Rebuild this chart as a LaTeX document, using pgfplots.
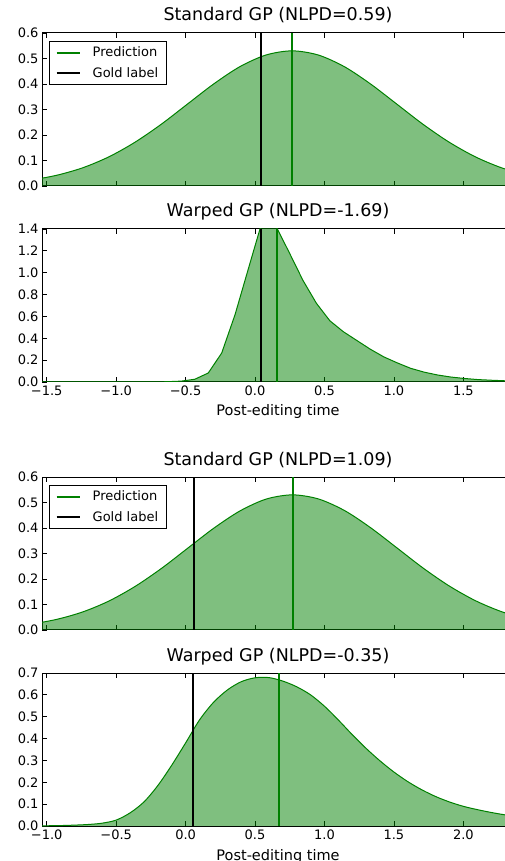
\documentclass[border=0pt]{standalone}
\usepackage{fontspec}
\setmainfont{DejaVu Sans}
\usepackage{pgfplots}
\pgfplotsset{compat=1.18}
\usepackage{pgfplotstable}
\definecolor{mplgreen}{RGB}{0,128,0}

% standard GP, example 1
\pgfplotstableread{
x y
-1.804 0.0121
-1.616 0.0233
-1.427 0.0422
-1.239 0.0717
-1.051 0.1147
-0.863 0.1721
-0.674 0.2426
-0.486 0.3215
-0.298 0.4000
-0.110 0.4677
0.079 0.5137
0.267 0.5300
0.455 0.5137
0.644 0.4677
0.832 0.4000
1.020 0.3215
1.208 0.2426
1.397 0.1721
1.585 0.1147
1.773 0.0717
1.961 0.0422
}\stdA

% warped GP, example 1
\pgfplotstableread{
x y
-1.600 0.000
-0.725 0.000
-0.628 0.003
-0.531 0.008
-0.434 0.025
-0.337 0.082
-0.240 0.265
-0.144 0.616
-0.043 1.058
0.054 1.480
0.151 1.425
0.248 1.180
0.345 0.930
0.442 0.720
0.539 0.560
0.636 0.460
0.733 0.380
0.830 0.300
0.927 0.230
1.024 0.175
1.121 0.125
1.218 0.090
1.315 0.064
1.412 0.045
1.509 0.032
1.606 0.022
1.703 0.016
1.800 0.011
1.897 0.008
}\warpA

% standard GP, example 2
\pgfplotstableread{
x y
-1.301 0.0121
-1.113 0.0233
-0.924 0.0422
-0.736 0.0717
-0.548 0.1147
-0.360 0.1721
-0.171 0.2426
0.017 0.3215
0.205 0.4000
0.394 0.4677
0.582 0.5137
0.770 0.5300
0.958 0.5137
1.147 0.4677
1.335 0.4000
1.523 0.3215
1.711 0.2426
1.900 0.1721
2.088 0.1147
2.276 0.0717
2.464 0.0422
}\stdB

% warped GP, example 2
\pgfplotstableread{
x y
-1.100 0.000
-1.000 0.001
-0.900 0.002
-0.800 0.004
-0.700 0.007
-0.600 0.013
-0.500 0.027
-0.400 0.060
-0.300 0.110
-0.200 0.185
-0.100 0.278
0.000 0.380
0.100 0.485
0.200 0.565
0.300 0.622
0.400 0.660
0.500 0.678
0.600 0.679
0.700 0.663
0.800 0.637
0.900 0.600
1.000 0.548
1.100 0.485
1.200 0.418
1.300 0.355
1.400 0.298
1.500 0.247
1.600 0.203
1.700 0.166
1.800 0.135
1.900 0.110
2.000 0.090
2.100 0.075
2.200 0.062
2.300 0.051
2.400 0.043
}\warpB

\pgfplotsset{
  gp/.style={
    scale only axis, width=463pt, height=153pt,
    anchor=south west,
    axis x line*=box, axis y line*=left,
    axis line style={line width=1pt, black},
    every tick/.style={line width=0.8pt, black},
    major tick length=5pt,
    tick align=inside,
    ymin=0,
    tick label style={font=\fontsize{13}{15}\selectfont},
    title style={at={(axis description cs:0.5,1)}, anchor=base, yshift=6pt, xshift=4.5pt,
      font=\fontsize{17.5}{20}\selectfont},
    xlabel style={at={(axis description cs:0.5,0)}, anchor=base, yshift=-34pt, xshift=4.5pt,
      font=\fontsize{14.5}{17}\selectfont},
    legend style={at={(0,1)}, anchor=north west, xshift=7.3pt, yshift=-7.7pt,
      draw=black, line width=0.8pt, font=\fontsize{13}{15}\selectfont,
      inner xsep=6pt, inner ysep=4pt, row sep=5pt, column sep=10pt},
    legend cell align=left,
    legend image code/.code={\draw[##1] (0pt,0pt) -- (23pt,0pt);},
  },
  axA/.style={xmin=-1.534, xmax=1.80, xtick={-1.5,-1,-0.5,0,0.5,1,1.5}},
  axB/.style={xmin=-1.034, xmax=2.30, xtick={-1,-0.5,0,0.5,1,1.5,2}},
}

\begin{document}
\begin{tikzpicture}

% panel 1
\begin{axis}[gp, axA, at={(42pt,675pt)}, ymax=0.6,
  title={Standard GP (NLPD=0.59)},
  xticklabels={},
  ytick={0,0.1,0.2,0.3,0.4,0.5,0.6},
  yticklabels={0.0,0.1,0.2,0.3,0.4,0.5,0.6}]
\addplot[draw=none, fill=mplgreen, fill opacity=0.5, smooth, forget plot] table {\stdA} \closedcycle;
\addplot[mplgreen, line width=1pt, smooth, forget plot] table {\stdA};
\addplot[mplgreen, line width=2pt] coordinates {(0.267,0)(0.267,0.6)};
\addlegendentry{Prediction}
\addplot[black, line width=2pt] coordinates {(0.045,0)(0.045,0.6)};
\addlegendentry{Gold label}
\end{axis}

% panel 2
\begin{axis}[gp, axA, at={(42pt,479pt)}, ymax=1.4,
  title={Warped GP (NLPD=-1.69)},
  xlabel={Post-editing time},
  xticklabels={−1.5,−1.0,−0.5,0.0,0.5,1.0,1.5},
  ytick={0,0.2,0.4,0.6,0.8,1.0,1.2,1.4},
  yticklabels={0.0,0.2,0.4,0.6,0.8,1.0,1.2,1.4}]
\addplot[draw=none, fill=mplgreen, fill opacity=0.5, forget plot] table {\warpA} \closedcycle;
\addplot[mplgreen, line width=1pt, forget plot] table {\warpA};
\addplot[mplgreen, line width=2pt, forget plot] coordinates {(0.161,0)(0.161,1.4)};
\addplot[black, line width=2pt, forget plot] coordinates {(0.043,0)(0.043,1.4)};
\end{axis}

% panel 3
\begin{axis}[gp, axB, at={(42pt,231pt)}, ymax=0.6,
  title={Standard GP (NLPD=1.09)},
  xticklabels={},
  ytick={0,0.1,0.2,0.3,0.4,0.5,0.6},
  yticklabels={0.0,0.1,0.2,0.3,0.4,0.5,0.6}]
\addplot[draw=none, fill=mplgreen, fill opacity=0.5, smooth, forget plot] table {\stdB} \closedcycle;
\addplot[mplgreen, line width=1pt, smooth, forget plot] table {\stdB};
\addplot[mplgreen, line width=2pt] coordinates {(0.770,0)(0.770,0.6)};
\addlegendentry{Prediction}
\addplot[black, line width=2pt] coordinates {(0.058,0)(0.058,0.6)};
\addlegendentry{Gold label}
\end{axis}

% panel 4
\begin{axis}[gp, axB, at={(42pt,35pt)}, ymax=0.7,
  title={Warped GP (NLPD=-0.35)},
  xlabel={Post-editing time},
  xticklabels={−1.0,−0.5,0.0,0.5,1.0,1.5,2.0},
  ytick={0,0.1,0.2,0.3,0.4,0.5,0.6,0.7},
  yticklabels={0.0,0.1,0.2,0.3,0.4,0.5,0.6,0.7}]
\addplot[draw=none, fill=mplgreen, fill opacity=0.5, smooth, forget plot] table {\warpB} \closedcycle;
\addplot[mplgreen, line width=1pt, smooth, forget plot] table {\warpB};
\addplot[mplgreen, line width=2pt, forget plot] coordinates {(0.671,0)(0.671,0.7)};
\addplot[black, line width=2pt, forget plot] coordinates {(0.055,0)(0.055,0.7)};
\end{axis}

\pgfresetboundingbox
\path[use as bounding box] (0pt,0pt) rectangle (505pt,861pt);
\end{tikzpicture}
\end{document}
